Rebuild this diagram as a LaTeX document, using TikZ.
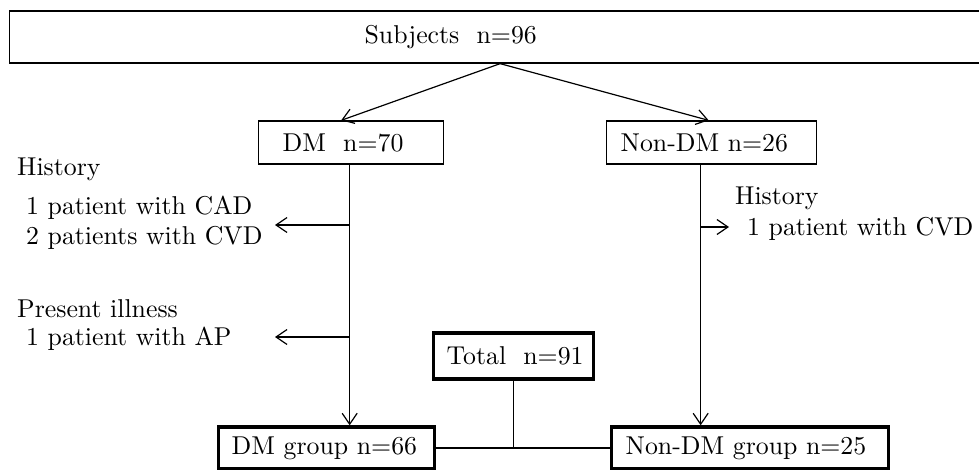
\documentclass[tikz,border=0pt]{standalone}
\usepackage{fontspec}
\setmainfont{lmroman10-regular}[Extension=.otf]
\usetikzlibrary{arrows.meta,calc}
\tikzset{
  thinbox/.style={draw, line width=1.3pt, inner ysep=0pt, inner xsep=0pt, anchor=west, align=left},
  thickbox/.style={draw, line width=3.4pt, inner ysep=0pt, inner xsep=0pt, anchor=west, align=left},
  arr/.style={line width=1.2pt, -{Straight Barb[length=11pt,width=15pt,line width=1.2pt]}},
  conn/.style={line width=1.2pt},
  lbl/.style={anchor=base west, inner sep=0pt},
}
\begin{document}
\begin{tikzpicture}[x=1pt,y=-1pt,font=\fontsize{25.8}{30}\selectfont]
\useasboundingbox (0,0) rectangle (979,470);
% boxes
\node[thinbox, minimum height=52pt, text width=981pt] (top) at (9,37) {\hspace*{355pt}Subjects~~n=96};
\node[thinbox, minimum height=43pt, text width=185pt] (dm) at (258,142.5) {\hspace*{24pt}DM~~n=70};
\node[thinbox, minimum height=43pt, text width=210pt] (ndm) at (606,142.5) {\hspace*{14pt}Non-DM n=26};
\node[thickbox, minimum height=46pt, text width=160pt] (total) at (432,356) {\hspace*{13pt}Total~~n=91};
\node[thickbox, minimum height=42pt, text width=216pt] (dmg) at (217,448) {\hspace*{13pt}DM group n=66};
\node[thickbox, minimum height=42pt, text width=277pt] (ndmg) at (610,448) {\hspace*{14pt}Non-DM group n=25};
% labels
\node[lbl] (h1) at (17,176) {History};
\node[lbl] (c1) at (26,215) {1 patient with CAD};
\node[lbl] (c2) at (26,245) {2 patients with CVD};
\node[lbl] (p1) at (17,317) {Present illness};
\node[lbl] (p2) at (26,345) {1 patient with AP};
\node[lbl] (h2) at (735,205) {History};
\node[lbl] (r1) at (747,236) {1 patient with CVD};
% connectors
\draw[arr] (top.south) -- ([xshift=-10pt]dm.north);
\draw[arr] (top.south) -- ([xshift=-3pt]ndm.north);
\draw[arr] ([xshift=-1.5pt]dm.south) -- ([xshift=-1.5pt]dm.south |- dmg.north);
\draw[arr] ([xshift=-11pt]ndm.south) -- ([xshift=-11pt]ndm.south |- ndmg.north);
\coordinate (l1) at (275,225);
\coordinate (l2) at (275,337);
\coordinate (r2) at (729,227);
\draw[arr] ([xshift=-1.5pt]dm.south |- l1) -- (l1);
\draw[arr] ([xshift=-1.5pt]dm.south |- l2) -- (l2);
\draw[arr] ([xshift=-11pt]ndm.south |- r2) -- (r2);
\draw[conn] (dmg.east) -- (ndmg.west);
\draw[conn] (total.south) -- (total.south |- dmg.east);
\end{tikzpicture}
\end{document}
